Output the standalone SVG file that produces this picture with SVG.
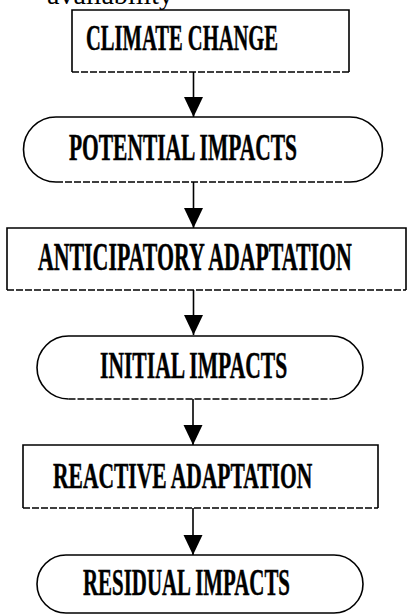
<svg xmlns="http://www.w3.org/2000/svg" width="409" height="615" viewBox="0 0 409 615">
<defs>
<style>
.edge{fill:none;stroke:#000;stroke-width:1.6}
.dash{fill:none;stroke:#000;stroke-width:1.6;stroke-dasharray:7 2}
.lbl{font-family:"Liberation Serif","Times New Roman",serif;font-weight:bold;fill:#000;stroke:#000;stroke-width:0.5}
.cap{font-family:"Liberation Serif","Times New Roman",serif;fill:#000}
.conn{fill:none;stroke:#000;stroke-width:1.6}
</style>
<marker id="ah" markerUnits="userSpaceOnUse" markerWidth="20" markerHeight="20" refX="20" refY="9.5" orient="auto" viewBox="0 0 20 19">
<path d="M0,0 L20,9.5 L0,19 Z" fill="#000"/>
</marker>
</defs>
<rect width="409" height="615" fill="#fff"/>
<text class="cap" x="47" y="4" font-size="28" textLength="126" lengthAdjust="spacingAndGlyphs">availability</text>

<g id="climate-change">
<path class="edge" d="M72,72 L72,10 L349,10 L349,72"/>
<line class="dash" x1="72" y1="72" x2="349" y2="72"/>
<text class="lbl" transform="translate(86,50) scale(0.6,1)" x="0" y="0" font-size="36" textLength="320" lengthAdjust="spacingAndGlyphs">CLIMATE CHANGE</text>
</g>

<g id="potential-impacts">
<path class="edge" d="M56,182 A32.5,32.5 0 0 1 56,117 L350,117 A32.5,32.5 0 0 1 350,182"/>
<line class="dash" x1="56" y1="182" x2="350" y2="182"/>
<text class="lbl" transform="translate(69,160) scale(0.6,1)" x="0" y="0" font-size="38" textLength="380" lengthAdjust="spacingAndGlyphs">POTENTIAL IMPACTS</text>
</g>

<g id="anticipatory-adaptation">
<path class="edge" d="M7,290 L7,228 L406,228 L406,290"/>
<line class="dash" x1="7" y1="290" x2="406" y2="290"/>
<text class="lbl" transform="translate(38,270) scale(0.6,1)" x="0" y="0" font-size="40" textLength="523" lengthAdjust="spacingAndGlyphs">ANTICIPATORY ADAPTATION</text>
</g>

<g id="initial-impacts">
<path class="edge" d="M68.5,399 A31.5,31.5 0 0 1 68.5,336 L331.5,336 A31.5,31.5 0 0 1 331.5,399"/>
<line class="dash" x1="68.5" y1="399" x2="331.5" y2="399"/>
<text class="lbl" transform="translate(100,378) scale(0.6,1)" x="0" y="0" font-size="38" textLength="312" lengthAdjust="spacingAndGlyphs">INITIAL IMPACTS</text>
</g>

<g id="reactive-adaptation">
<path class="edge" d="M23,508 L23,445 L378,445 L378,508"/>
<line class="dash" x1="23" y1="508" x2="378" y2="508"/>
<text class="lbl" transform="translate(53,488) scale(0.6,1)" x="0" y="0" font-size="35" textLength="432" lengthAdjust="spacingAndGlyphs">REACTIVE ADAPTATION</text>
</g>

<g id="residual-impacts">
<path class="edge" d="M66,613 A29,29 0 0 1 66,555 L334,555 A29,29 0 0 1 334,613 Z"/>
<text class="lbl" transform="translate(83,595) scale(0.6,1)" x="0" y="0" font-size="38" textLength="345" lengthAdjust="spacingAndGlyphs">RESIDUAL IMPACTS</text>
</g>

<g id="connectors">
<line class="conn" x1="193.5" y1="72" x2="193.5" y2="117" marker-end="url(#ah)"/>
<line class="conn" x1="193.5" y1="182" x2="193.5" y2="228" marker-end="url(#ah)"/>
<line class="conn" x1="193.5" y1="290" x2="193.5" y2="335" marker-end="url(#ah)"/>
<line class="conn" x1="193" y1="399" x2="193" y2="445" marker-end="url(#ah)"/>
<line class="conn" x1="193" y1="508" x2="193" y2="555" marker-end="url(#ah)"/>
</g>
</svg>
